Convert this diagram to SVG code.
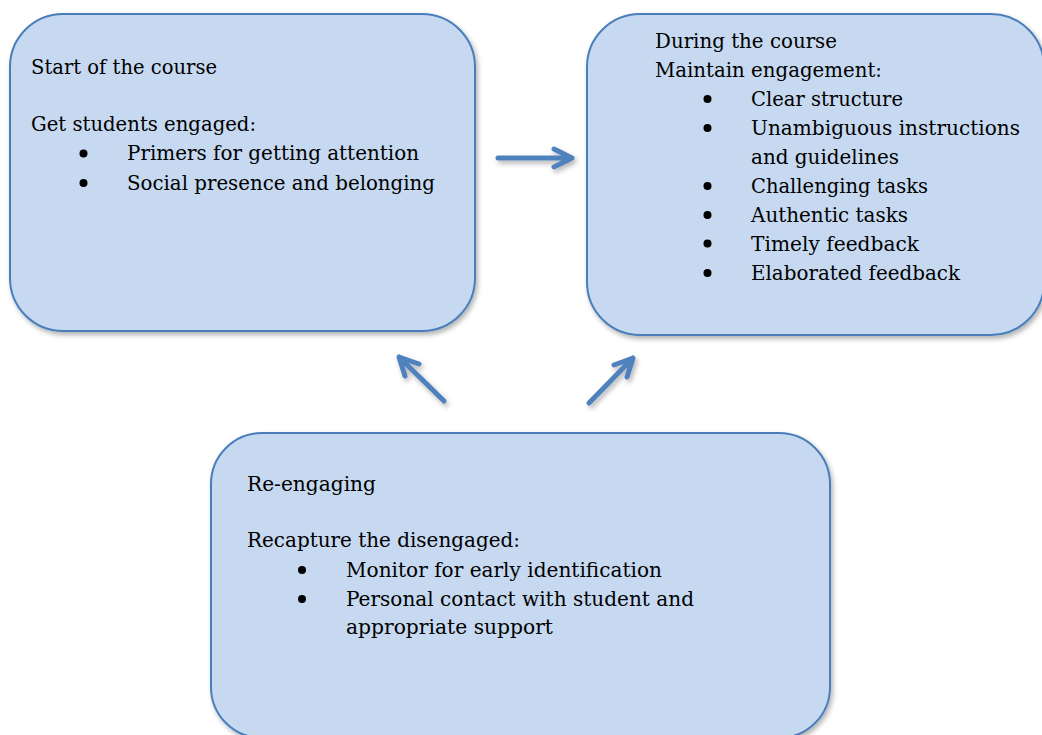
<svg xmlns="http://www.w3.org/2000/svg" width="1042" height="735" viewBox="0 0 1042 735">
<style>
.box{fill:#c6d9f1;stroke:#4a7ebb;stroke-width:2}
.t{font-family:"DejaVu Serif","Liberation Serif",serif;font-size:20.5px;fill:#000}
.dot{fill:#000}
.arr{fill:none;stroke:#4f81bd;stroke-width:5;stroke-linecap:round;stroke-linejoin:round}
</style>
<defs>
<filter id="sh" x="-10%" y="-10%" width="120%" height="125%">
<feDropShadow dx="2" dy="3" stdDeviation="2.5" flood-color="#000" flood-opacity="0.3"/>
</filter>
</defs>
<rect width="1042" height="735" fill="#fff"/>
<g id="start">
<rect class="box" x="10" y="14" width="465" height="317" rx="53" ry="53" filter="url(#sh)"/>
<text class="t" x="31" y="74" textLength="186" lengthAdjust="spacingAndGlyphs">Start of the course</text>
<text class="t" x="31" y="131" textLength="225" lengthAdjust="spacingAndGlyphs">Get students engaged:</text>
<circle class="dot" cx="83.5" cy="153.5" r="4"/>
<text class="t" x="127" y="160" textLength="292" lengthAdjust="spacingAndGlyphs">Primers for getting attention</text>
<circle class="dot" cx="83.5" cy="183" r="4"/>
<text class="t" x="127" y="190" textLength="308" lengthAdjust="spacingAndGlyphs">Social presence and belonging</text>
</g>
<g id="during">
<rect class="box" x="587" y="14" width="457" height="321" rx="53" ry="53" filter="url(#sh)"/>
<text class="t" x="655" y="48" textLength="182" lengthAdjust="spacingAndGlyphs">During the course</text>
<text class="t" x="655" y="77" textLength="227" lengthAdjust="spacingAndGlyphs">Maintain engagement:</text>
<circle class="dot" cx="707.5" cy="99" r="4"/>
<text class="t" x="751" y="106" textLength="152" lengthAdjust="spacingAndGlyphs">Clear structure</text>
<circle class="dot" cx="707.5" cy="128" r="4"/>
<text class="t" x="751" y="135" textLength="269" lengthAdjust="spacingAndGlyphs">Unambiguous instructions</text>
<text class="t" x="751" y="163.5" textLength="148" lengthAdjust="spacingAndGlyphs">and guidelines</text>
<circle class="dot" cx="707.5" cy="186" r="4"/>
<text class="t" x="751" y="193" textLength="177" lengthAdjust="spacingAndGlyphs">Challenging tasks</text>
<circle class="dot" cx="707.5" cy="215" r="4"/>
<text class="t" x="751" y="222" textLength="157" lengthAdjust="spacingAndGlyphs">Authentic tasks</text>
<circle class="dot" cx="707.5" cy="243.5" r="4"/>
<text class="t" x="751" y="250.5" textLength="168" lengthAdjust="spacingAndGlyphs">Timely feedback</text>
<circle class="dot" cx="707.5" cy="273" r="4"/>
<text class="t" x="751" y="280" textLength="209" lengthAdjust="spacingAndGlyphs">Elaborated feedback</text>
</g>
<g id="reengaging">
<rect class="box" x="211" y="433" width="619" height="305" rx="51" ry="51" filter="url(#sh)"/>
<text class="t" x="247" y="491" textLength="129" lengthAdjust="spacingAndGlyphs">Re-engaging</text>
<text class="t" x="247" y="547" textLength="273" lengthAdjust="spacingAndGlyphs">Recapture the disengaged:</text>
<circle class="dot" cx="302" cy="570" r="4"/>
<text class="t" x="346" y="577" textLength="316" lengthAdjust="spacingAndGlyphs">Monitor for early identification</text>
<circle class="dot" cx="302" cy="599" r="4"/>
<text class="t" x="346" y="606" textLength="348" lengthAdjust="spacingAndGlyphs">Personal contact with student and</text>
<text class="t" x="346" y="634" textLength="207" lengthAdjust="spacingAndGlyphs">appropriate support</text>
</g>
<g id="connectors" filter="url(#sh)">
<path class="arr" d="M498,158 L572,158 M554,149 L572,158 L554,167"/>
<path class="arr" d="M444,401 L399,357 M419,364 L399,357 L405,376"/>
<path class="arr" d="M589,403 L633,358 M614,365 L633,358 L627,377"/>
</g>
</svg>
